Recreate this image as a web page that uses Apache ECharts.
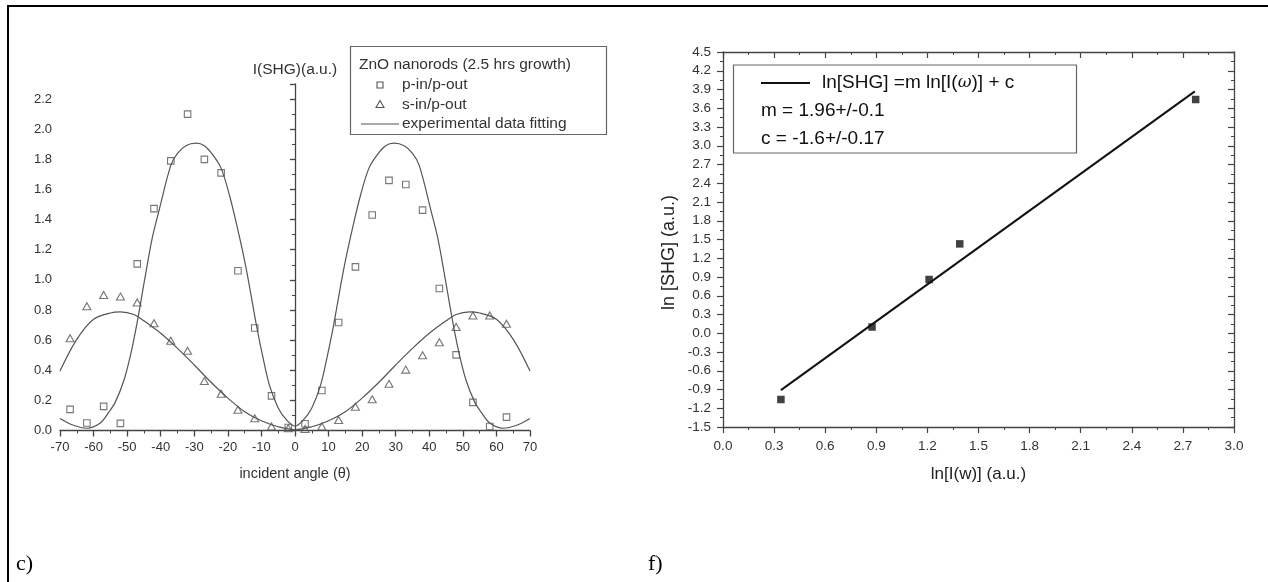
<!DOCTYPE html>
<html>
<head>
<meta charset="utf-8">
<script src="https://cdn.jsdelivr.net/npm/echarts@6/dist/echarts.min.js"></script>
<style>
html,body{margin:0;padding:0;background:#fff;}
#chart{width:1268px;height:582px;}
</style>
</head>
<body>
<div id="chart"></div>
<script>
// ---- Panel c): SHG vs incident angle ----
const angles = [-67,-62,-57,-52,-47,-42,-37,-32,-27,-22,-17,-12,-7,-2,3,8,13,18,23,28,33,38,43,48,53,58,63];
const pInPOut = [0.14,0.05,0.16,0.047,1.106,1.473,1.79,2.10,1.80,1.71,1.06,0.68,0.23,0.02,0.045,0.266,0.717,1.086,1.43,1.66,1.633,1.463,0.943,0.502,0.187,0.027,0.089];
const sInPOut = [0.613,0.825,0.90,0.889,0.85,0.712,0.596,0.53,0.328,0.244,0.138,0.081,0.027,0.015,0.01,0.027,0.07,0.158,0.207,0.31,0.404,0.50,0.586,0.687,0.764,0.764,0.709];
const pFitX = [-70,-66,-62,-58,-55.5,-53.5,-51,-49,-47,-44.8,-42.5,-40.5,-37,-35,-32.5,-29.5,-27,-24.5,-22,-19.5,-17,-14.5,-11.5,-9.5,-7.6,-5,-2.5,0,2.5,5,7.6,9.5,11.5,14.5,17,19.5,22,24.5,27,29.5,32.5,35,37,40.5,42.5,44.8,47,49,51,53.5,55.5,58,62,66,70];
const pFitY = [0.08,0.035,0.015,0.05,0.12,0.19,0.33,0.5,0.72,1.0,1.28,1.46,1.76,1.84,1.89,1.907,1.89,1.83,1.74,1.56,1.33,1.07,0.70,0.48,0.30,0.15,0.07,0.03,0.07,0.15,0.30,0.48,0.70,1.07,1.33,1.56,1.74,1.83,1.89,1.907,1.89,1.84,1.76,1.46,1.28,1.0,0.72,0.5,0.33,0.19,0.12,0.05,0.015,0.035,0.08];
const sFitX = [-70,-65,-60,-55,-52,-48,-45,-40,-35,-30,-25,-20,-15,-10,-5,0,5,10,15,20,25,30,35,40,45,48,52,55,60,65,70];
const sFitY = [0.395,0.605,0.738,0.78,0.787,0.77,0.728,0.645,0.545,0.435,0.32,0.215,0.125,0.065,0.025,0.005,0.025,0.065,0.125,0.215,0.32,0.435,0.545,0.645,0.728,0.77,0.787,0.78,0.738,0.605,0.395];

// ---- Panel f): ln[SHG] vs ln[I(w)] ----
const lnI = [0.34, 0.875, 1.21, 1.39, 2.775];
const lnSHG = [-1.06, 0.10, 0.86, 1.43, 3.74];
const fitLnI = [0.34, 2.77];
const fitLnSHG = [-0.91, 3.87];

const zip = (a, b) => a.map((v, i) => [v, b[i]]);
const FONT = 'Liberation Sans, Arial, sans-serif';
const cGray = '#555';

const chart = echarts.init(document.getElementById('chart'), null, {renderer: 'canvas'});

const leftX = {
  gridIndex: 0, type: 'value', min: -70, max: 70, interval: 10,
  name: 'incident angle (θ)', nameLocation: 'middle', nameGap: 36,
  nameTextStyle: {fontFamily: FONT, fontSize: 14.5, color: '#333'},
  axisLine: {lineStyle: {color: '#444', width: 1.3}},
  axisTick: {length: 6, lineStyle: {color: '#444', width: 1.3}},
  minorTick: {show: true, splitNumber: 2, length: 3, lineStyle: {color: '#444', width: 1}},
  axisLabel: {fontFamily: FONT, fontSize: 13, color: '#333', margin: 10},
  splitLine: {show: false}
};
const leftY = {
  gridIndex: 0, type: 'value', min: 0, max: 2.3, interval: 0.2,
  name: 'I(SHG)(a.u.)', nameLocation: 'end', nameGap: 6,
  nameTextStyle: {fontFamily: FONT, fontSize: 15.5, color: '#333'},
  axisLine: {onZero: true, lineStyle: {color: '#444', width: 1.3}},
  axisTick: {length: 5, lineStyle: {color: '#444', width: 1.3}},
  minorTick: {show: true, splitNumber: 2, length: 3, lineStyle: {color: '#444', width: 1}},
  axisLabel: {fontFamily: FONT, fontSize: 13, color: '#333', margin: 8, showMaxLabel: false,
    formatter: v => v.toFixed(1)},
  splitLine: {show: false}
};
const rBase = {
  axisLine: {onZero: false, lineStyle: {color: '#444', width: 1.3}},
  axisTick: {length: 6, lineStyle: {color: '#444', width: 1.2}},
  minorTick: {show: true, splitNumber: 2, length: 3, lineStyle: {color: '#444', width: 1}},
  splitLine: {show: false}
};
const rightXBottom = Object.assign({}, rBase, {
  gridIndex: 1, type: 'value', min: 0, max: 3, interval: 0.3, position: 'bottom',
  name: 'ln[I(w)] (a.u.)', nameLocation: 'middle', nameGap: 39,
  nameTextStyle: {fontFamily: FONT, fontSize: 17, color: '#222'},
  axisLabel: {fontFamily: FONT, fontSize: 13.5, color: '#333', margin: 12, formatter: v => v.toFixed(1)}
});
const rightXTop = Object.assign({}, rBase, {
  gridIndex: 1, type: 'value', min: 0, max: 3, interval: 0.3, position: 'top',
  axisTick: {inside: true, length: 6, lineStyle: {color: '#444', width: 1.2}},
  axisLabel: {show: false}
});
const rightYLeft = Object.assign({}, rBase, {
  gridIndex: 1, type: 'value', min: -1.5, max: 4.5, interval: 0.3, position: 'left',
  name: 'ln [SHG] (a.u.)', nameLocation: 'middle', nameGap: 45, nameRotate: 90,
  nameTextStyle: {fontFamily: FONT, fontSize: 18, color: '#222', padding: [0, 26, 0, 0]},
  axisLabel: {fontFamily: FONT, fontSize: 13.5, color: '#333', margin: 12, formatter: v => v.toFixed(1)}
});
const rightYRight = Object.assign({}, rBase, {
  gridIndex: 1, type: 'value', min: -1.5, max: 4.5, interval: 0.3, position: 'right',
  axisTick: {inside: true, length: 6, lineStyle: {color: '#444', width: 1.2}},
  axisLabel: {show: false}
});

const option = {
  animation: false,
  backgroundColor: '#fff',
  grid: [
    {left: 60, top: 84, width: 470, height: 346.5},
    {left: 723, top: 52, width: 511, height: 375}
  ],
  xAxis: [leftX, rightXBottom, rightXTop],
  yAxis: [leftY, rightYLeft, rightYRight],
  series: [
    {type: 'line', name: 'experimental data fitting', xAxisIndex: 0, yAxisIndex: 0,
      data: zip(pFitX, pFitY), smooth: 0.35, showSymbol: false, symbol: 'none',
      lineStyle: {color: cGray, width: 1.2}, z: 2},
    {type: 'line', name: 'experimental data fitting', xAxisIndex: 0, yAxisIndex: 0,
      data: zip(sFitX, sFitY), smooth: 0.35, showSymbol: false, symbol: 'none',
      lineStyle: {color: cGray, width: 1.2}, z: 2},
    {type: 'scatter', name: 'p-in/p-out', xAxisIndex: 0, yAxisIndex: 0,
      data: zip(angles, pInPOut), symbol: 'rect', symbolSize: 6.5,
      itemStyle: {color: 'rgba(255,255,255,0)', borderColor: cGray, borderWidth: 1.1}, z: 3},
    {type: 'scatter', name: 's-in/p-out', xAxisIndex: 0, yAxisIndex: 0,
      data: zip(angles, sInPOut), symbol: 'triangle', symbolSize: [8, 7],
      itemStyle: {color: 'rgba(255,255,255,0)', borderColor: cGray, borderWidth: 1.1}, z: 3},
    {type: 'line', name: 'ln[SHG] =m ln[I(ω)] + c', xAxisIndex: 1, yAxisIndex: 1,
      data: zip(fitLnI, fitLnSHG), showSymbol: false, symbol: 'none',
      lineStyle: {color: '#111', width: 2}, z: 2},
    {type: 'scatter', name: 'data', xAxisIndex: 1, yAxisIndex: 1,
      data: zip(lnI, lnSHG), symbol: 'rect', symbolSize: 7.5,
      itemStyle: {color: '#111'}, z: 3}
  ],
  graphic: [
    // page frame
    {type: 'line', shape: {x1: 7, y1: 6, x2: 1268, y2: 6}, style: {stroke: '#000', lineWidth: 2}},
    {type: 'line', shape: {x1: 8, y1: 5, x2: 8, y2: 582}, style: {stroke: '#000', lineWidth: 2}},
    {type: 'text', left: 16, top: 553, style: {text: 'c)', font: '22px "Liberation Serif", "Times New Roman", serif', fill: '#000'}},
    {type: 'text', left: 648, top: 553, style: {text: 'f)', font: '22px "Liberation Serif", "Times New Roman", serif', fill: '#000'}},
    // left legend
    {type: 'rect', shape: {x: 350.5, y: 46.5, width: 256, height: 88}, style: {fill: 'none', stroke: '#666', lineWidth: 1.2}, z: 10},
    {type: 'text', x: 359, y: 65, style: {text: 'ZnO nanorods (2.5 hrs growth)', font: '15.5px ' + FONT, fill: '#333', verticalAlign: 'middle'}, z: 10},
    {type: 'rect', shape: {x: 377, y: 82, width: 6, height: 6}, style: {fill: 'none', stroke: cGray, lineWidth: 1.1}, z: 10},
    {type: 'text', x: 402, y: 85, style: {text: 'p-in/p-out', font: '15.5px ' + FONT, fill: '#333', verticalAlign: 'middle'}, z: 10},
    {type: 'polygon', shape: {points: [[380, 100.5], [376, 107.5], [384, 107.5]]}, style: {fill: 'none', stroke: cGray, lineWidth: 1.1}, z: 10},
    {type: 'text', x: 402, y: 104.5, style: {text: 's-in/p-out', font: '15.5px ' + FONT, fill: '#333', verticalAlign: 'middle'}, z: 10},
    {type: 'line', shape: {x1: 361, y1: 124, x2: 399, y2: 124}, style: {stroke: cGray, lineWidth: 1.2}, z: 10},
    {type: 'text', x: 402, y: 124, style: {text: 'experimental data fitting', font: '15.5px ' + FONT, fill: '#333', verticalAlign: 'middle'}, z: 10},
    // right legend
    {type: 'rect', shape: {x: 733.5, y: 65, width: 343, height: 88}, style: {fill: 'none', stroke: '#666', lineWidth: 1.2}, z: 10},
    {type: 'line', shape: {x1: 761, y1: 83, x2: 810, y2: 83}, style: {stroke: '#111', lineWidth: 2}, z: 10},
    {type: 'text', x: 822, y: 83, style: {
      text: 'ln[SHG] =m ln[I({w|ω})] + c', font: '19px ' + FONT, fill: '#111', verticalAlign: 'middle',
      rich: {w: {fontFamily: 'DejaVu Serif, serif', fontStyle: 'italic', fontSize: 17, fill: '#111'}}}, z: 10},
    {type: 'text', x: 761, y: 111, style: {text: 'm = 1.96+/-0.1', font: '19px ' + FONT, fill: '#111', verticalAlign: 'middle'}, z: 10},
    {type: 'text', x: 761, y: 138.5, style: {text: 'c = -1.6+/-0.17', font: '19px ' + FONT, fill: '#111', verticalAlign: 'middle'}, z: 10}
  ]
};
chart.setOption(option);
</script>
</body>
</html>
